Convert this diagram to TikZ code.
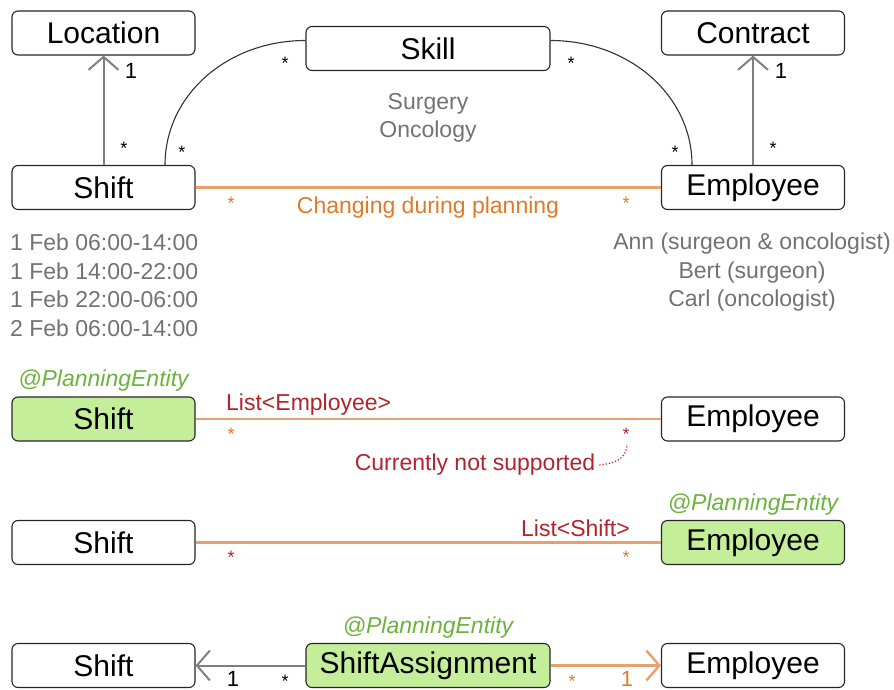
\documentclass[tikz,border=0pt]{standalone}
\usepackage{fontspec}
\setmainfont{Liberation Sans}
\usetikzlibrary{arrows.meta,calc}
\definecolor{entitygreen}{HTML}{C5EE9B}
\definecolor{annogreen}{HTML}{6BB33C}
\definecolor{notegray}{HTML}{727272}
\definecolor{linegray}{HTML}{808080}
\definecolor{planorange}{HTML}{E9A06F}
\definecolor{textorange}{HTML}{E07A28}
\definecolor{listred}{HTML}{B3232B}

\tikzset{
  cls/.style={draw=black!85, line width=1.1pt, rounded corners=6pt, fill=white,
    minimum width=183pt, minimum height=44pt, inner sep=0pt,
    font=\fontsize{30}{34}\selectfont},
  widecls/.style={cls, minimum width=244pt},
  entity/.style={cls, fill=entitygreen},
  mult/.style={inner sep=0pt, font=\fontsize{18}{20}\selectfont},
  one/.style={inner sep=0pt, font=\fontsize{22}{24}\selectfont},
  note/.style={inner sep=0pt, text=notegray, font=\fontsize{23}{28.4}\selectfont},
  anno/.style={inner sep=0pt, text=annogreen, font=\fontsize{23}{26}\selectfont\itshape},
  label/.style={inner sep=0pt, font=\fontsize{23}{26}\selectfont},
  plan/.style={draw=planorange, line width=2.4pt},
  assoc/.style={draw=linegray, line width=2pt},
}

\begin{document}
\begin{tikzpicture}[x=1pt, y=-1pt, >={Straight Barb[length=13pt,width=30pt]}]
\useasboundingbox (0,0) rectangle (894,690);

% first model
\node[cls] (location) at (103.5,33) {Location};
\node[cls] (contract) at (753,33) {Contract};
\node[widecls] (skill) at (428,48.5) {Skill};
\node[cls] (shift1) at (103.5,187.5) {Shift};
\node[cls] (employee1) at (753,187.5) {Employee};

\draw[->, assoc] (shift1) -- (location);
\draw[->, assoc] (employee1) -- (contract);
\node[one] (locone) at (131,71) {1};
\node[mult] (locstar) at (124,148) {*};
\node[one] (conone) at (781,71) {1};
\node[mult] (constar) at (773,148) {*};

\draw[line width=1.1pt, black!80] ($(shift1.north)+(61.5,0)$) .. controls +(0,-70) and +(-78,0) .. ($(skill.west)+(0,-8)$);
\draw[line width=1.1pt, black!80] ($(skill.east)+(0,-8)$) .. controls +(78,0) and +(0,-70) .. ($(employee1.north)+(-61,0)$);
\node[mult] (sklstar) at (285,63) {*};
\node[mult] (shskstar) at (182,152) {*};
\node[mult] (skrstar) at (571,63) {*};
\node[mult] (emskstar) at (675,152) {*};

\draw[plan] (shift1) -- (employee1);
\node[mult, text=textorange] (chl) at (231,203) {*};
\node[mult, text=textorange] (chr) at (626,203) {*};
\node[label, text=textorange] (changing) at (428,208) {Changing during planning};

\node[note, align=center] (skills) at (428,118) {Surgery\\Oncology};
\node[note, align=left, anchor=north west] (shifts) at (10,234) {1 Feb 06:00-14:00\\1 Feb 14:00-22:00\\1 Feb 22:00-06:00\\2 Feb 06:00-14:00};
\node[note, align=center, anchor=north] (employees) at (752,233) {Ann (surgeon \& oncologist)\\Bert (surgeon)\\Carl (oncologist)};

% list on shift
\node[entity] (shift2) at (103.5,419) {Shift};
\node[anno] (anno2) at (103.5,381) {@PlanningEntity};
\node[cls] (employee2) at (753,419) {Employee};
\draw[plan] (shift2) -- (employee2);
\node[label, text=listred, anchor=west] (list2) at (226,405) {List<Employee>};
\node[mult, text=textorange] (l2l) at (231,434) {*};
\node[mult, text=listred] (l2r) at (626,434) {*};
\node[label, text=listred] (notsup) at (475,465) {Currently not supported};
\coordinate (l2rb) at (627,444);
\draw[listred, dotted, line width=1.2pt] ($(notsup.east)+(4,0)$) .. controls +(22,-2) and +(0,10) .. (l2rb);

% list on employee
\node[cls] (shift3) at (103.5,542.5) {Shift};
\node[entity] (employee3) at (753,542.5) {Employee};
\node[anno] (anno3) at (753,505) {@PlanningEntity};
\draw[plan] (shift3) -- (employee3);
\node[label, text=listred, anchor=east] (list3) at (630,528) {List<Shift>};
\node[mult, text=listred] (l3l) at (231,557) {*};
\node[mult, text=textorange] (l3r) at (626,557) {*};

% assignment class
\node[cls] (shift4) at (103.5,665.5) {Shift};
\node[widecls, fill=entitygreen] (assign) at (428,665.5) {ShiftAssignment};
\node[anno] (anno4) at (428,628) {@PlanningEntity};
\node[cls] (employee4) at (753,665.5) {Employee};
\draw[->, assoc] (assign) -- (shift4);
\draw[->, plan] (assign) -- (employee4);
\node[one] (a1) at (233,679) {1};
\node[mult] (a2) at (285,681) {*};
\node[mult, text=textorange] (a3) at (572,681) {*};
\node[one, text=textorange] (a4) at (627,679) {1};
\end{tikzpicture}
\end{document}
